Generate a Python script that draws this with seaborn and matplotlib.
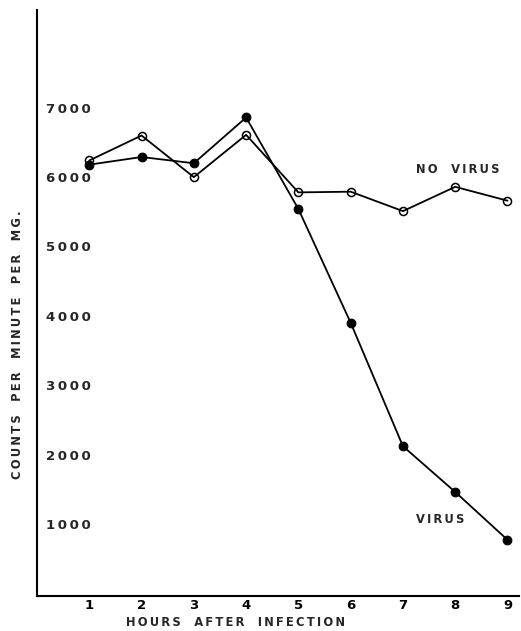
import matplotlib
matplotlib.use("Agg")
import matplotlib.pyplot as plt
import seaborn as sns
import pandas as pd

hours = [1, 2, 3, 4, 5, 6, 7, 8, 9]
virus = [6220, 6330, 6240, 6900, 5580, 3940, 2160, 1500, 810]
no_virus = [6280, 6640, 6040, 6650, 5820, 5830, 5550, 5900, 5700]
y_ticks = [1000, 2000, 3000, 4000, 5000, 6000, 7000]
x_ticks = hours

sns.set_style("white")
plt.rcParams["font.family"] = ["DejaVu Sans"]

THIN = "\u2009"


def spaced(text):
    """Letter-spaced lettering, words kept apart by a wide gap."""
    words = text.split(" ")
    return (THIN * 6).join(THIN.join(w) for w in words)


df = pd.DataFrame({
    "hours": hours * 2,
    "counts": virus + no_virus,
    "series": ["VIRUS"] * len(hours) + ["NO VIRUS"] * len(hours),
})

fig = plt.figure(figsize=(5.21, 6.31), dpi=100)
ax = fig.add_axes([37 / 521, 1 - 596 / 631, (519 - 37) / 521, (596 - 10) / 631])

sns.lineplot(data=df[df.series == "VIRUS"], x="hours", y="counts", ax=ax,
             color="black", lw=1.3, marker="o", markersize=6.3,
             markerfacecolor="black", markeredgecolor="black")
sns.lineplot(data=df[df.series == "NO VIRUS"], x="hours", y="counts", ax=ax,
             color="black", lw=1.3, marker="o", markersize=5.8,
             markerfacecolor="none", markeredgecolor="black", markeredgewidth=1.1)

ax.set_xlim(0, 9.22)
ax.set_ylim(0, 8450)
for s in ["top", "right"]:
    ax.spines[s].set_visible(False)
for s in ["left", "bottom"]:
    ax.spines[s].set_linewidth(1.5)
    ax.spines[s].set_color("black")

num_font = dict(fontsize=9.5, fontweight="bold")
lab_font = dict(fontsize=8.3, fontweight="bold")

ax.set_xticks(x_ticks)
ax.set_xticklabels([str(h) for h in x_ticks], **num_font)
ax.tick_params(axis="x", direction="in", length=5, width=1.1, pad=2, colors="black")
ax.set_yticks(y_ticks)
ax.set_yticklabels([])
ax.tick_params(axis="y", direction="in", length=4, width=1.1, colors="black")
for v in y_ticks:
    ax.text(0.17, v - 75, THIN.join(str(v)), ha="left", va="bottom", **num_font)

ax.set_xlabel("")
ax.set_ylabel("")
ax.grid(False)

ax.text(8.04, 6150, spaced("NO VIRUS"), ha="center", va="center", **lab_font)
ax.text(7.71, 1100, spaced("VIRUS"), ha="center", va="center", **lab_font)

fig.text(236 / 521, 1 - 622 / 631, spaced("HOURS AFTER INFECTION"),
         ha="center", va="center", **lab_font)
fig.text(18 / 521, 1 - 345 / 631, spaced("COUNTS PER MINUTE PER MG."),
         ha="center", va="center", rotation=90, **lab_font)

fig.savefig("out.png", dpi=100)
